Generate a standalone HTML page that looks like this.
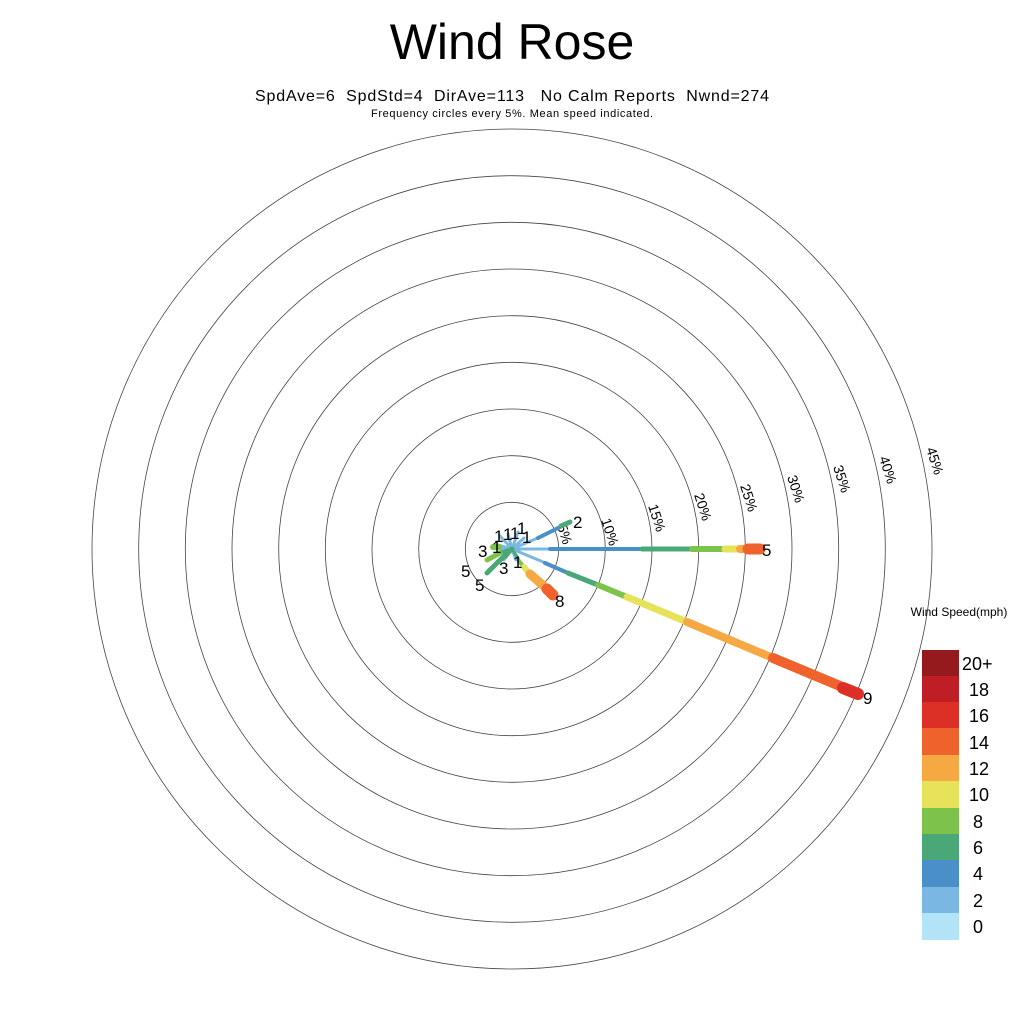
<!DOCTYPE html>
<html><head><style>body{margin:0;background:#fff}svg{display:block}text{font-family:"Liberation Sans",sans-serif}</style></head>
<body>
<svg width="1024" height="1024" viewBox="0 0 1024 1024">
<text x="512" y="59" font-size="50" text-anchor="middle">Wind Rose</text>
<text x="255" y="101" font-size="16" textLength="514" lengthAdjust="spacing" xml:space="preserve" style="white-space:pre">SpdAve=6  SpdStd=4  DirAve=113   No Calm Reports  Nwnd=274</text>
<text x="371" y="117" font-size="11" textLength="282" lengthAdjust="spacing">Frequency circles every 5%. Mean speed indicated.</text>
<g fill="none" stroke="#444" stroke-width="0.8">
<circle cx="512" cy="549" r="46.7"/><circle cx="512" cy="549" r="93.3"/><circle cx="512" cy="549" r="140"/>
<circle cx="512" cy="549" r="186.7"/><circle cx="512" cy="549" r="233.3"/><circle cx="512" cy="549" r="280"/>
<circle cx="512" cy="549" r="326.7"/><circle cx="512" cy="549" r="373.3"/><circle cx="512" cy="549" r="420"/>
</g>
<g font-size="14">
<text transform="translate(601,520) rotate(72)">10%</text>
<text transform="translate(648,506) rotate(72)">15%</text>
<text transform="translate(694,495) rotate(72)">20%</text>
<text transform="translate(740,486) rotate(72)">25%</text>
<text transform="translate(787,477) rotate(72)">30%</text>
<text transform="translate(833,467) rotate(72)">35%</text>
<text transform="translate(879,458) rotate(72)">40%</text>
<text transform="translate(926,449) rotate(72)">45%</text>
<text transform="translate(557,526) rotate(72)">5%</text>
</g>
<g stroke-linecap="round">
<g stroke="#7ab8e3" stroke-width="3">
<line x1="512" y1="549" x2="500" y2="536"/><line x1="512" y1="549" x2="508" y2="534"/>
<line x1="512" y1="549" x2="518" y2="532"/><line x1="512" y1="549" x2="524" y2="538"/>
<line x1="512" y1="549" x2="498" y2="545"/><line x1="512" y1="549" x2="504" y2="560"/>
<line x1="512" y1="549" x2="516" y2="560"/><line x1="512" y1="549" x2="500" y2="549"/>
</g>
<line x1="512" y1="549" x2="560" y2="549" stroke="#7ab8e3" stroke-width="3"/>
<line x1="550" y1="549" x2="642" y2="549" stroke="#4a8fc7" stroke-width="4"/>
<line x1="642" y1="549" x2="692" y2="549" stroke="#4aa878" stroke-width="5"/>
<line x1="692" y1="549" x2="722" y2="549" stroke="#7dc24a" stroke-width="6"/>
<line x1="725" y1="549" x2="738" y2="549" stroke="#e6e35a" stroke-width="7"/>
<line x1="740" y1="549" x2="746" y2="549" stroke="#f6a843" stroke-width="8"/>
<line x1="748" y1="549" x2="760" y2="549" stroke="#f0622c" stroke-width="11"/>
<line x1="512" y1="549" x2="548" y2="564" stroke="#7ab8e3" stroke-width="3"/>
<line x1="545" y1="563" x2="568" y2="573" stroke="#4a8fc7" stroke-width="4"/>
<line x1="568" y1="573" x2="598" y2="585" stroke="#4aa878" stroke-width="5"/>
<line x1="598" y1="585" x2="627" y2="597" stroke="#7dc24a" stroke-width="6"/>
<line x1="627" y1="597" x2="687" y2="622" stroke="#e6e35a" stroke-width="7"/>
<line x1="687" y1="622" x2="773" y2="658" stroke="#f6a843" stroke-width="8"/>
<line x1="773" y1="658" x2="840" y2="686" stroke="#f0622c" stroke-width="10"/>
<line x1="843" y1="688" x2="858" y2="694" stroke="#dc3027" stroke-width="12"/>
<line x1="512" y1="549" x2="519" y2="560" stroke="#7ab8e3" stroke-width="3"/>
<line x1="519" y1="561" x2="523" y2="566" stroke="#7dc24a" stroke-width="4"/>
<line x1="524" y1="567" x2="528" y2="572" stroke="#e6e35a" stroke-width="6"/>
<line x1="530" y1="574" x2="546" y2="588" stroke="#f6a843" stroke-width="9"/>
<line x1="547" y1="589" x2="553" y2="595" stroke="#f0622c" stroke-width="11"/>
<line x1="512" y1="549" x2="540" y2="537" stroke="#7ab8e3" stroke-width="3"/>
<line x1="538" y1="538" x2="560" y2="527" stroke="#4a8fc7" stroke-width="4"/>
<line x1="561" y1="526" x2="570" y2="522" stroke="#4aa878" stroke-width="5"/>
<line x1="493" y1="547" x2="499" y2="547" stroke="#7dc24a" stroke-width="6"/>
<line x1="512" y1="549" x2="500" y2="553" stroke="#4aa878" stroke-width="4"/>
<line x1="500" y1="553" x2="487" y2="560" stroke="#7dc24a" stroke-width="5"/>
<line x1="512" y1="549" x2="498" y2="562" stroke="#4aa878" stroke-width="5"/>
<line x1="498" y1="562" x2="487" y2="573" stroke="#4aa878" stroke-width="5"/>
<line x1="510" y1="552" x2="506" y2="557" stroke="#4aa878" stroke-width="3"/>
<line x1="514" y1="552" x2="518" y2="558" stroke="#4aa878" stroke-width="3"/>
</g>
<g font-size="17">
<text x="762" y="556">5</text>
<text x="863" y="704">9</text>
<text x="555" y="607">8</text>
<text x="573" y="528">2</text>
<text x="478" y="557">3</text>
<text x="461" y="577">5</text>
<text x="475" y="591">5</text>
<text x="499" y="574">3</text>
<text x="513" y="568">1</text>
<text x="492" y="553">1</text>
<text x="494" y="542">1</text>
<text x="503" y="540">1</text>
<text x="510" y="539">1</text>
<text x="517" y="534">1</text>
<text x="522" y="543">1</text>
</g>
<text x="959" y="616" font-size="12" text-anchor="middle">Wind Speed(mph)</text>
<g>
<rect x="922" y="650" width="37" height="27" fill="#941a1d"/>
<rect x="922" y="676" width="37" height="27" fill="#bf1e26"/>
<rect x="922" y="702" width="37" height="27" fill="#dc3027"/>
<rect x="922" y="728" width="37" height="27" fill="#f0622c"/>
<rect x="922" y="755" width="37" height="27" fill="#f6a843"/>
<rect x="922" y="781" width="37" height="27" fill="#e6e35a"/>
<rect x="922" y="808" width="37" height="27" fill="#7dc24a"/>
<rect x="922" y="834" width="37" height="27" fill="#4aa878"/>
<rect x="922" y="860" width="37" height="27" fill="#4a8fc7"/>
<rect x="922" y="887" width="37" height="27" fill="#7ab8e3"/>
<rect x="922" y="913" width="37" height="27" fill="#b3e3f7"/>
</g>
<g font-size="18">
<text x="962" y="670">20+</text><text x="969" y="696">18</text><text x="969" y="722">16</text>
<text x="969" y="749">14</text><text x="969" y="775">12</text><text x="969" y="801">10</text>
<text x="973" y="828">8</text><text x="973" y="854">6</text><text x="973" y="880">4</text>
<text x="973" y="907">2</text><text x="973" y="933">0</text>
</g>
</svg>
</body></html>
